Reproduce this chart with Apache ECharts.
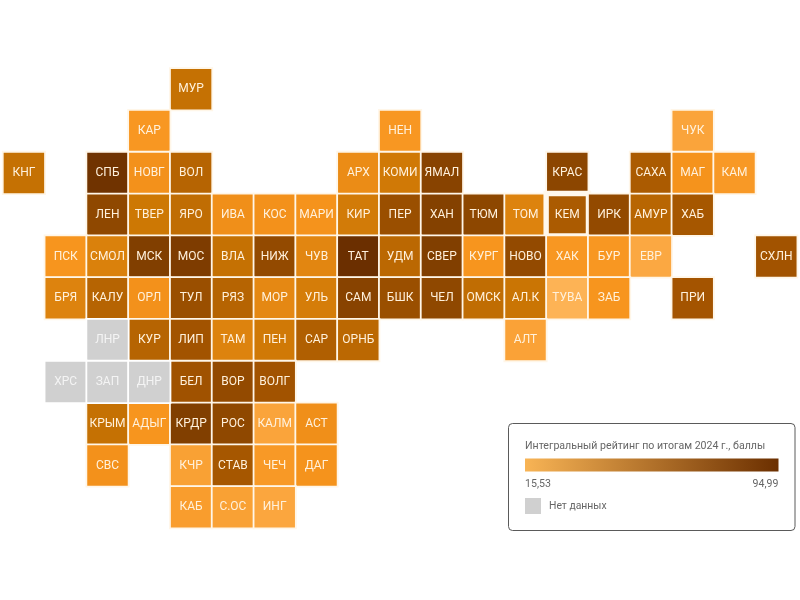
<!DOCTYPE html>
<html>
<head>
<meta charset="utf-8">
<style>html,body{margin:0;padding:0;background:#fff}#chart{width:800px;height:600px}</style>
<script src="https://cdn.jsdelivr.net/npm/echarts@6/dist/echarts.min.js"></script>
</head>
<body>
<div id="chart"></div>
<script>
// Tile map of Russian regions: each row lists region codes by tile column, '' is an empty tile.
const regionRows = [
  ['','','','','МУР','','','','','','','','','','','','','',''],
  ['','','','КАР','','','','','','НЕН','','','','','','','ЧУК','',''],
  ['КНГ','','СПБ','НОВГ','ВОЛ','','','','АРХ','КОМИ','ЯМАЛ','','','КРАС','','САХА','МАГ','КАМ',''],
  ['','','ЛЕН','ТВЕР','ЯРО','ИВА','КОС','МАРИ','КИР','ПЕР','ХАН','ТЮМ','ТОМ','КЕМ','ИРК','АМУР','ХАБ','',''],
  ['','ПСК','СМОЛ','МСК','МОС','ВЛА','НИЖ','ЧУВ','ТАТ','УДМ','СВЕР','КУРГ','НОВО','ХАК','БУР','ЕВР','','','СХЛН'],
  ['','БРЯ','КАЛУ','ОРЛ','ТУЛ','РЯЗ','МОР','УЛЬ','САМ','БШК','ЧЕЛ','ОМСК','АЛ.К','ТУВА','ЗАБ','','ПРИ','',''],
  ['','','ЛНР','КУР','ЛИП','ТАМ','ПЕН','САР','ОРНБ','','','','АЛТ','','','','','',''],
  ['','ХРС','ЗАП','ДНР','БЕЛ','ВОР','ВОЛГ','','','','','','','','','','','',''],
  ['','','КРЫМ','АДЫГ','КРДР','РОС','КАЛМ','АСТ','','','','','','','','','','',''],
  ['','','СВС','','КЧР','СТАВ','ЧЕЧ','ДАГ','','','','','','','','','','',''],
  ['','','','','КАБ','С.ОС','ИНГ','','','','','','','','','','','','']
];

// Integral rating, points, in the same order as the codes of each row.
const ratingRows = [
  [50],
  [30, 30, 23],
  [50, 92, 33, 56, 36, 46, 78, 76, 60, 32, 29],
  [74, 47, 52, 34, 33, 32, 45, 68, 80, 75, 41, 60, 72, 55, 62],
  [31, 42, 82, 84, 50, 72, 39, 94.99, 54, 82, 31, 72, 30, 30, 21, 64],
  [41, 56, 33, 68, 56, 38, 44, 78, 68, 74, 52, 48, 15.53, 31, 63],
  [56, 64, 41, 46, 58, 54, 24],
  [65, 72, 64],
  [50, 31, 82, 74, 23, 34],
  [33, 25, 62, 29, 32],
  [27, 25, 22]
];

// Regions without a rating.
const noDataRegions = ['ЛНР', 'ХРС', 'ЗАП', 'ДНР'];
const outlinedRegions = ['КЕМ'];

const ratingMin = 15.53;
const ratingMax = 94.99;
const rampColors = ['#FDB355', '#F7941D', '#CC7704', '#A35400', '#864200', '#6B2F00'];
const legendTitle = 'Интегральный рейтинг по итогам 2024 г., баллы';
const legendMinLabel = '15,53';
const legendMaxLabel = '94,99';
const noDataLabel = 'Нет данных';

const rated = [];
const missing = [];
regionRows.forEach(function (row, r) {
  let k = 0;
  row.forEach(function (code, c) {
    if (!code) return;
    if (noDataRegions.indexOf(code) >= 0) {
      missing.push({ name: code, value: [c, r, 0] });
      return;
    }
    const item = { name: code, value: [c, r, ratingRows[r][k]] };
    k += 1;
    if (outlinedRegions.indexOf(code) >= 0) {
      item.itemStyle = { borderWidth: 5.4, borderColor: '#FFF8EC' };
    }
    rated.push(item);
  });
});

const tileLabel = {
  show: true,
  formatter: function (p) { return p.name; },
  color: '#FFF1DC',
  fontFamily: 'Roboto',
  fontSize: 12
};
const noEmphasis = { disabled: true };

const chart = echarts.init(document.getElementById('chart'), null, { renderer: 'canvas' });
chart.setOption({
  animation: false,
  backgroundColor: '#fff',
  grid: { left: 3, top: 68.4, width: 794.2, height: 459.8 },
  xAxis: { type: 'category', show: false, data: regionRows[0].map(function (_, i) { return i; }) },
  yAxis: { type: 'category', show: false, inverse: true, data: regionRows.map(function (_, i) { return i; }) },
  visualMap: {
    show: false,
    seriesIndex: 0,
    min: ratingMin,
    max: ratingMax,
    dimension: 2,
    inRange: { color: rampColors }
  },
  series: [
    {
      type: 'heatmap',
      data: rated,
      label: tileLabel,
      itemStyle: { borderColor: '#FFF6E8', borderWidth: 1.8 },
      emphasis: noEmphasis
    },
    {
      type: 'heatmap',
      name: noDataLabel,
      data: missing,
      label: Object.assign({}, tileLabel, { color: '#F4F4F4' }),
      itemStyle: { color: '#D0D0D0', borderColor: '#FFFFFF', borderWidth: 1.8 },
      emphasis: noEmphasis
    }
  ],
  graphic: [
    {
      type: 'rect',
      shape: { x: 508.5, y: 423.5, width: 286.5, height: 107, r: 4 },
      style: { fill: '#fff', stroke: '#5a5a5a', lineWidth: 1 }
    },
    {
      type: 'text',
      x: 525, y: 446,
      style: { text: legendTitle, fill: '#666', font: '10.6px Roboto', textVerticalAlign: 'middle' }
    },
    {
      type: 'rect',
      shape: { x: 525, y: 458.5, width: 253.5, height: 13 },
      style: {
        fill: new echarts.graphic.LinearGradient(0, 0, 1, 0, [
          { offset: 0, color: '#F8B455' },
          { offset: 1, color: '#6B2F00' }
        ])
      }
    },
    {
      type: 'text',
      x: 525, y: 484.5,
      style: { text: legendMinLabel, fill: '#666', font: '10.6px Roboto', textVerticalAlign: 'middle' }
    },
    {
      type: 'text',
      x: 778.5, y: 484.5,
      style: { text: legendMaxLabel, fill: '#666', font: '10.6px Roboto', textAlign: 'right', textVerticalAlign: 'middle' }
    },
    {
      type: 'rect',
      shape: { x: 525, y: 498, width: 16, height: 16 },
      style: { fill: '#D0D0D0' }
    },
    {
      type: 'text',
      x: 549, y: 506,
      style: { text: noDataLabel, fill: '#666', font: '10.4px Roboto', textVerticalAlign: 'middle' }
    }
  ]
});
</script>
</body>
</html>
